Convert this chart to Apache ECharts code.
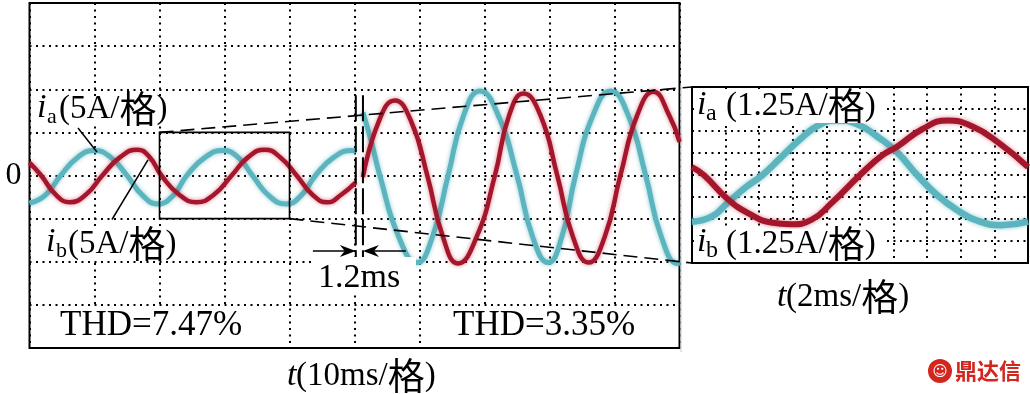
<!DOCTYPE html>
<html><head><meta charset="utf-8">
<script src="https://cdn.jsdelivr.net/npm/echarts@6/dist/echarts.min.js"></script>
<style>html,body{margin:0;padding:0;background:#fff}#c{width:1030px;height:394px}</style>
</head><body><div id="c"></div>
<script>
// ---- data (time in ms, current in A) ----
// main panel: i_a (cyan)
const tIa = [0, 2.4, 4.8, 7.4, 10.0, 12.5, 15.0, 17.4, 19.7, 22.0, 24.2, 27.0, 29.8, 32.1, 34.3, 36.9, 39.5, 41.8, 44.0, 46.8, 49.6, 50.2, 50.7, 51.3, 52.6, 53.9, 56.8, 59.6, 62.0, 64.4, 66.8, 69.3, 72.1, 75.0, 77.4, 79.8, 81.9, 84.0, 86.7, 89.4, 92.1, 94.8, 97.2, 99.7, 100];
const ia  = [-3.2, -2.3, 0, 2.1, 2.9, 2.1, 0, -2.3, -3.3, -2.4, 0, 2.1, 2.9, 2.1, 0, -2.4, -3.3, -2.3, 0, 2.1, 2.9, 2.8, null, 7.3, 3.9, 0, -7.1, -10.1, -7.1, 0, 7.0, 9.8, 7.0, 0, -7.1, -10.1, -7.1, 0, 7.0, 9.8, 7.0, 0, -7.1, -10.2, -10.1];
// main panel: i_b (red)
const tIb = [0, 1.8, 4.0, 6.2, 8.7, 11.2, 13.9, 16.6, 18.5, 20.3, 23.0, 25.7, 28.4, 31.1, 33.6, 36.2, 38.6, 41.1, 43.5, 45.8, 48.0, 50.2, 50.7, 51.3, 53.7, 56.2, 58.7, 61.2, 63.6, 65.9, 68.8, 71.6, 73.8, 76.0, 78.6, 81.2, 83.6, 86.0, 88.5, 90.9, 93.5, 96.0, 98.4, 100];
const ib  = [1.5, 0, -2.2, -3.1, -2.2, 0, 2.1, 3.0, 2.1, 0, -2.2, -3.1, -2.2, 0, 2.1, 3.0, 2.1, 0, -2.2, -3.1, -2.2, -0.8, null, -0.2, 6.2, 8.7, 6.3, 0, -7.1, -10.2, -7.1, 0, 7.0, 9.5, 7.0, 0, -7.1, -10.1, -7.1, 0, 7.0, 9.7, 7.0, 3.9];
// zoomed panel (2 ms/div, 1.25 A/div)
const tZa = [0, 1.2, 2.1, 3.2, 4.2, 5.3, 6.4, 7.5, 8.6, 9.8, 11.0, 12.2, 13.4, 14.6, 15.8, 17.0, 18.4, 20];
const za  = [-2.65, -2.35, -1.6, -0.7, 0, 1.0, 2.0, 2.8, 3.1, 2.9, 2.2, 1.3, 0, -1.15, -2.0, -2.6, -2.85, -2.65];
const tZb = [0, 0.7, 2.1, 3.4, 4.7, 5.9, 7.1, 8.3, 10.0, 11.3, 12.2, 13.7, 15.2, 16.7, 18.3, 20];
const zb  = [0.45, 0, -1.35, -2.2, -2.7, -2.8, -2.55, -1.6, 0, 1.1, 1.6, 2.6, 3.1, 2.75, 1.8, 0.45];
// axes (divisions)
const mainXTicks = [0, 100, 10];   // 10 ms/div
const mainYTicks = [-20, 20, 5];   // 5 A/div
const zoomXTicks = [0, 20, 2];     // 2 ms/div
const zoomYTicks = [-5, 5, 1.25];  // 1.25 A/div
const zeroLabel = '0';
// texts
const thdLeft = 'THD=7.47%';
const thdRight = 'THD=3.35%';
const gapLabel = '1.2ms';
const unitMain = '(5A/';
const unitZoom = '(1.25A/';
const cjk = '格';

const CY = '#5cb4be', RD = '#a3162c';
const SERIF = '"Liberation Serif","Times New Roman",serif';
const CJKF = '"Noto Sans CJK SC",sans-serif';

function pairs(t, v){ return t.map((x,i)=>[x, v[i]===null ? '-' : v[i]]); }
function ax(tk, gi, isY){
  return {type:'value', gridIndex:gi, min:tk[0], max:tk[1], interval:tk[2],
    axisLine:{show:false}, axisTick:{show:false},
    axisLabel: (isY && gi===0) ? {show:true, margin:8, fontFamily:SERIF, fontSize:32, color:'#000',
       formatter: v => v===0 ? zeroLabel : ''} : {show:false},
    splitLine:{show:true, lineStyle:{color:'#000', width:2, type:[2,4.5]}}};
}
function ser(data, xi, color, w, shadow, z){
  return {type:'line', xAxisIndex:xi, yAxisIndex:xi, data:data, smooth:0.5, symbol:'none',
    connectNulls:false, z:z, silent:true, animation:false,
    lineStyle:{color:color, width:w, shadowBlur:4, shadowColor:shadow}};
}
const chart = echarts.init(document.getElementById('c'));
chart.setOption({
  animation:false, backgroundColor:'#fff',
  grid:[
    {left:29.5, top:3, width:650, height:345, show:true, borderColor:'#000', borderWidth:2, backgroundColor:'transparent'},
    {left:692, top:87, width:336, height:176, show:true, borderColor:'#000', borderWidth:2, backgroundColor:'transparent'}
  ],
  xAxis:[ax(mainXTicks,0,false), ax(zoomXTicks,1,false)],
  yAxis:[ax(mainYTicks,0,true), ax(zoomYTicks,1,true)],
  series:[
    ser(pairs(tIa, ia), 0, CY, 5, 'rgba(92,180,190,0.7)', 2),
    ser(pairs(tIb, ib), 0, RD, 4.5, 'rgba(200,50,70,0.6)', 3),
    ser(pairs(tZa, za), 1, CY, 6.5, 'rgba(92,180,190,0.7)', 2),
    ser(pairs(tZb, zb), 1, RD, 6, 'rgba(200,50,70,0.6)', 3)
  ]
});

function P(g, x, y){ return chart.convertToPixel({gridIndex:g}, [x, y]); }
const G = [];
const Z = 50;
function line(a, b, w, dash){ G.push({type:'line', z:Z, shape:{x1:a[0],y1:a[1],x2:b[0],y2:b[1]}, style:{stroke:'#000', lineWidth:w, lineDash:dash||null}}); }
function box(x, y, w, h){ G.push({type:'rect', z:Z+1, shape:{x:x,y:y,width:w,height:h}, style:{fill:'#fff'}}); }
function txt(x, y, text, size, italic, extra){
  G.push(Object.assign({type:'text', z:Z+2, x:x, y:y, style:{text:text, fill:'#000', font:(italic?'italic ':'')+size+'px '+SERIF, verticalAlign:'middle', align:'left'}}, extra||{}));
}
function rich(x, y, latin, size, csize){
  G.push({type:'text', z:Z+2, x:x, y:y, style:{text:'{p|'+latin+'}{c|'+cjk+'}{p|)}', verticalAlign:'middle', align:'left',
    rich:{p:{fontFamily:SERIF, fontSize:size, fill:'#000'}, c:{fontFamily:CJKF, fontSize:csize, fill:'#000'}}}});
}
function arrow(tip, dir){
  const [x,y] = tip;
  G.push({type:'polygon', z:Z, shape:{points:[[x,y],[x-dir*16,y-6],[x-dir*11,y],[x-dir*16,y+6]]}, style:{fill:'#000'}});
}
// zoom rectangle and connectors
const r1 = P(0, 20, 5), r2 = P(0, 40, -5);
G.push({type:'rect', z:Z, shape:{x:r1[0], y:r1[1], width:r2[0]-r1[0], height:r2[1]-r1[1]}, style:{fill:'none', stroke:'#000', lineWidth:1.6}});
line(P(0,20,5), P(1,0,5), 1.6, [14,7]);
line(P(0,40,-5), P(1,0,-5), 1.6, [14,7]);
// gap markers
line(P(0,50.2,9.3), P(0,50.2,-9.6), 2, [26,5]);
line(P(0,51.3,9.3), P(0,51.3,-9.6), 2, [26,5]);
const ay = -8.76;
line(P(0,43.6,ay), P(0,49.0,ay), 1.6);
arrow(P(0,50.2,ay), 1);
line(P(0,57.9,ay), P(0,52.5,ay), 1.6);
arrow(P(0,51.3,ay), -1);
// leader lines
line(P(0,7.46,5.51), P(0,10.38,2.73), 1.5);
line(P(0,12.69,-5.1), P(0,18.23,1.8), 1.5);
// white label backgrounds
box(35, 96, 146, 28);
box(44, 229, 144, 30);
box(56, 308, 192, 38);
box(444, 308, 204, 38);
box(312, 257, 104, 37);
box(694, 89, 192, 34);
box(694, 229, 192, 32);
// labels
txt(37, 108, 'i', 34, true); txt(47, 117, 'a', 22, false); rich(59, 109, unitMain, 33, 37);
txt(46, 242, 'i', 34, true); txt(56, 251, 'b', 22, false); rich(68, 244, unitMain, 33, 37);
txt(697, 105, 'i', 34, true); txt(706, 114, 'a', 24, false); rich(726, 106, unitZoom, 33, 37);
txt(697, 242, 'i', 34, true); txt(706, 251, 'b', 24, false); rich(726, 244, unitZoom, 33, 37);
txt(60, 326, thdLeft, 35, false);
txt(453, 326, thdRight, 35, false);
txt(318, 278, gapLabel, 34, false);
txt(287, 376, 't', 34, true); rich(296, 376, '(10ms/', 33, 37);
txt(777, 297, 't', 34, true); rich(786, 297, '(2ms/', 33, 37);
// faint edge line
G.push({type:'line', z:1, shape:{x1:681,y1:86,x2:681,y2:352}, style:{stroke:'#c9d6de', lineWidth:1.2}});
// watermark
G.push({type:'circle', z:Z, shape:{cx:940, cy:371, r:12}, style:{fill:'#d2261f'}});
G.push({type:'text', z:Z+1, x:940, y:372, style:{text:'☺', fill:'#fff', font:'bold 15px "DejaVu Sans"', align:'center', verticalAlign:'middle'}});
G.push({type:'text', z:Z, x:955, y:371, style:{text:'鼎达信', fill:'#d2261f', font:'bold 22px '+CJKF, align:'left', verticalAlign:'middle'}});
chart.setOption({graphic:G});
</script>
</body></html>
